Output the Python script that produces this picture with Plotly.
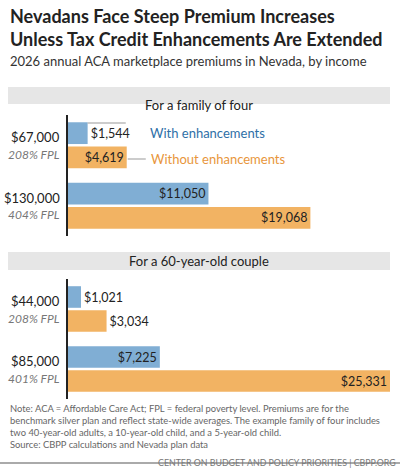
import plotly.graph_objects as go

groups = ["$67,000", "$130,000"]
fpl_top = ["208% FPL", "404% FPL"]
with_top = [1544, 11050]
without_top = [4619, 19068]
groups_b = ["$44,000", "$85,000"]
fpl_bot = ["208% FPL", "401% FPL"]
with_bot = [1021, 7225]
without_bot = [3034, 25331]

BLUE = "#80aed4"; ORANGE = "#f2b363"
BLUE_T = "#2e6fa7"; ORANGE_T = "#e8963b"
F = "Lato"
H = 476
def py(p): return 1 - p / H

fig = go.Figure()
def fmt(v): return "${:,}".format(v)
for (cats, w, wo, ax) in [(groups, with_top, without_top, ""), (groups_b, with_bot, without_bot, "2")]:
    for vals, col, og in [(w, BLUE, "a"), (wo, ORANGE, "b")]:
        pos = ["inside" if v > 4000 else "outside" for v in vals]
        fig.add_trace(go.Bar(y=cats, x=vals, orientation="h", marker=dict(color=col, line=dict(width=0)),
                             offsetgroup=og, text=[fmt(v) for v in vals], textposition=pos,
                             insidetextanchor="end", cliponaxis=False,
                             textfont=dict(family=F, size=12.5, color="#222"),
                             xaxis="x" + ax, yaxis="y" + ax, showlegend=False))

xd = [68 / 400, 390 / 400]
fig.update_layout(
    width=400, height=476, margin=dict(l=0, r=0, t=0, b=0),
    paper_bgcolor="white", plot_bgcolor="white", barmode="group",
    bargap=0.2, bargroupgap=0.1, font=dict(family=F),
    xaxis=dict(domain=xd, range=[0, 25331], visible=False),
    xaxis2=dict(domain=xd, range=[0, 25331], visible=False),
    yaxis=dict(domain=[py(236), py(115)], range=[1.5, -0.5], showticklabels=False, showline=False),
    yaxis2=dict(domain=[py(399), py(279)], range=[1.5, -0.5], showticklabels=False, showline=False, anchor="x2"),
)

ann = []
shapes = []
for cats, fpls, yr, xr in [(groups, fpl_top, "y", "x"), (groups_b, fpl_bot, "y2", "x2")]:
    for c, f in zip(cats, fpls):
        ann.append(dict(x=0, y=c, xref=xr, yref=yr, text=c, showarrow=False, xanchor="right", xshift=-6, yshift=8,
                        font=dict(family=F, size=13, color="#222")))
        ann.append(dict(x=0, y=c, xref=xr, yref=yr, text="<i>" + f + "</i>", showarrow=False, xanchor="right", xshift=-6, yshift=-9,
                        font=dict(family=F, size=12, color="#777")))
shapes.append(dict(type="line", xref="paper", yref="paper", x0=67/400, x1=67/400, y0=py(236), y1=py(115), line=dict(color="#222", width=2)))
shapes.append(dict(type="line", xref="paper", yref="paper", x0=67/400, x1=67/400, y0=py(399), y1=py(279), line=dict(color="#222", width=2)))
for y0, y1, t in [(87, 104, "For a family of four"), (252, 270, "For a 60-year-old couple")]:
    shapes.append(dict(type="rect", xref="paper", yref="paper", x0=8/400, x1=390/400, y0=py(y1), y1=py(y0), fillcolor="#e6e6e6", line=dict(width=0)))
    ann.append(dict(x=199/400, y=py((y0 + y1) / 2), xref="paper", yref="paper", text=t, showarrow=False,
                    font=dict(family=F, size=13, color="#222")))
shapes.append(dict(type="line", xref="x", yref="paper", x0=1544, x1=1544 + 3000, y0=py(123), y1=py(123), line=dict(color="#999", width=1)))
shapes.append(dict(type="line", xref="x", yref="paper", x0=4619 + 80, x1=4619 + 1500, y0=py(159), y1=py(159), line=dict(color="#999", width=1)))
ann.append(dict(x=148/400, y=py(123), xref="paper", yref="paper", text="With enhancements", showarrow=False, xanchor="left",
                font=dict(family=F, size=13, color=BLUE_T)))
ann.append(dict(x=149/400, y=py(159), xref="paper", yref="paper", text="Without enhancements", showarrow=False, xanchor="left",
                font=dict(family=F, size=13, color=ORANGE_T)))
ann.append(dict(x=8/400, y=py(3), xref="paper", yref="paper", xanchor="left", yanchor="top", align="left", showarrow=False,
                text="<b>Nevadans Face Steep Premium Increases<br>Unless Tax Credit Enhancements Are Extended</b>",
                font=dict(family=F, size=18, color="#222")))
ann.append(dict(x=8/400, y=py(51), xref="paper", yref="paper", xanchor="left", yanchor="top", showarrow=False,
                text="2026 annual ACA marketplace premiums in Nevada, by income", font=dict(family=F, size=13, color="#333")))
ann.append(dict(x=8/400, y=py(401), xref="paper", yref="paper", xanchor="left", yanchor="top", align="left", showarrow=False,
                text="Note: ACA = Affordable Care Act; FPL = federal poverty level. Premiums are for the<br>benchmark silver plan and reflect state-wide averages. The example family of four includes<br>two 40-year-old adults, a 10-year-old child, and a 5-year-old child.",
                font=dict(family=F, size=9.4, color="#666")))
ann.append(dict(x=8/400, y=py(452), xref="paper", yref="paper", xanchor="left", showarrow=False,
                text="Source: CBPP calculations and Nevada plan data", font=dict(family=F, size=9.4, color="#666")))
shapes.append(dict(type="line", xref="paper", yref="paper", x0=0, x1=1, y0=py(463), y1=py(463), line=dict(color="#aaa", width=2)))
ann.append(dict(x=398/400, y=py(470), xref="paper", yref="paper", xanchor="right", showarrow=False,
                text="CENTER ON BUDGET AND POLICY PRIORITIES | CBPP.ORG", font=dict(family=F, size=8.8, color="#777")))
fig.update_layout(annotations=ann, shapes=shapes)
fig.write_html("out.html", config={"displayModeBar": False},
               post_script="document.body.style.margin='0';document.body.style.overflow='hidden';")
